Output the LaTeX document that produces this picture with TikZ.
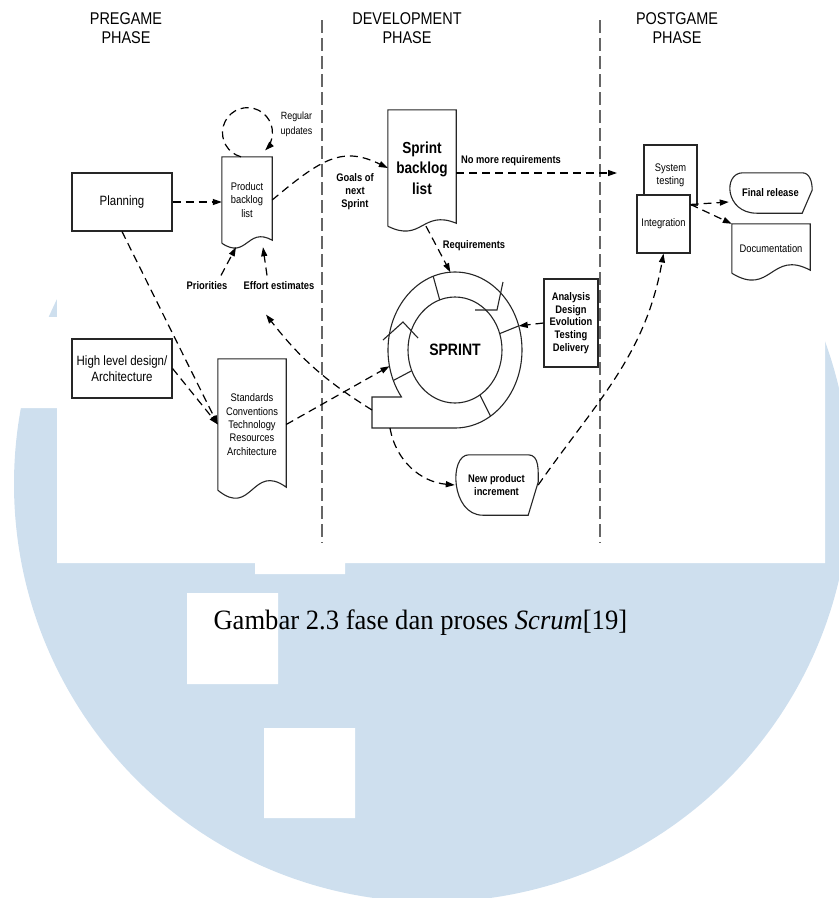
\documentclass[tikz,border=0pt]{standalone}
\usepackage{fontspec}
\setmainfont{Liberation Sans}[FakeStretch=0.85]
\newfontfamily\capfont{Liberation Serif}[FakeStretch=0.95]
\usepackage{tikz}
\usetikzlibrary{arrows.meta, positioning, calc, shapes.geometric}
\definecolor{wmblue}{RGB}{206,223,238}

\newcommand{\docline}[2]{%
  \draw[shapeline] (#1.south west) -- (#1.north west) -- (#1.north east) -- ([yshift=3pt]#1.south east)
    .. controls ($(#1.south)+(0,#2)$) and ($(#1.south)+(0,-#2)$) .. (#1.south west);}
\newcommand{\displine}[1]{%
  \draw[shapeline] ([xshift=14pt]#1.north west) -- ([xshift=-10pt]#1.north east)
    to[out=0,in=90] ([yshift=3pt]#1.east) -- ([xshift=-10pt]#1.south east) -- ([xshift=28pt]#1.south west)
    .. controls ([xshift=-4pt]#1.south west) and ([xshift=-6pt]#1.north west) .. ([xshift=14pt]#1.north west);}

\begin{document}
\begin{tikzpicture}[x=1pt, y=1pt,
    shapeline/.style={line width=1.1pt, black!85},
    box/.style={draw=black!85, line width=1.1pt, fill=white, rectangle, align=center, inner sep=1pt},
    doc/.style={rectangle, align=center, inner sep=0pt},
    flow/.style={line width=1.2pt, dash pattern=on 8pt off 5pt, -{Triangle[length=9pt,width=6pt]}},
    phase/.style={line width=2.6pt, black!60, dash pattern=on 13pt off 5pt},
    phasetitle/.style={align=center, font=\fontsize{17}{19}\selectfont},
    lbl/.style={align=center, font=\fontsize{11}{13}\selectfont\bfseries},
    txt/.style={font=\fontsize{11}{13.3}\selectfont}]

    \useasboundingbox (0,0) rectangle (839,-898);
    \clip (0,0) rectangle (839,-898);
    \fill[wmblue] (432,-484) circle[radius=418];
    \fill[white] (57,0) rectangle (825,-563) (0,-317) rectangle (57,-408)
        (255,-563) rectangle (345,-574) (187,-593) rectangle (278,-684) (264,-728) rectangle (355,-818);

    \node[phasetitle] (pregame) at (126,-28.5) {PREGAME\\PHASE};
    \node[phasetitle] (devel) at (407,-28.5) {DEVELOPMENT\\PHASE};
    \node[phasetitle] (postgame) at (677,-28.5) {POSTGAME\\PHASE};
    \draw[phase] (322,-20) -- (322,-543);

    \node[box, minimum width=100pt, minimum height=58pt, font=\fontsize{13.5}{16}\selectfont] (planning) at (122,-202) {Planning};
    \node[box, minimum width=100pt, minimum height=59pt, font=\fontsize{13.5}{16}\selectfont] (hld) at (122,-368.5) {High level design/\\Architecture};
    \node[doc, txt, minimum width=50pt, minimum height=86pt] (pbl) at (247,-200) {Product\\backlog\\list};
    \docline{pbl}{17}
    \node[doc, txt, minimum width=68pt, minimum height=131pt] (std) at (252,-424.5) {Standards\\Conventions\\Technology\\Resources\\Architecture};
    \docline{std}{28}
    \node[doc, minimum width=68pt, minimum height=116pt, font=\fontsize{16}{20.5}\selectfont\bfseries] (sbl) at (422,-168) {Sprint\\backlog\\list};
    \docline{sbl}{17}

    \node[ellipse, draw=black!85, line width=1.1pt, minimum width=94pt, minimum height=106pt, inner sep=0pt,
        font=\fontsize{16.5}{18}\selectfont\bfseries] (sprint) at (455,-350) {SPRINT};
    \draw[shapeline] ([yshift=-78pt]sprint.center) arc[start angle=-90, end angle=217, x radius=67, y radius=78]
        -- (372,-397) -- (372,-428) -- cycle;
    \foreach \a in {109,203,18,-58}
        \draw[shapeline] ([shift={(\a:47 and 53)}]sprint.center) -- ([shift={(\a:67 and 78)}]sprint.center);
    \draw[shapeline] (503,-282) -- (497,-310) -- (475,-310);
    \draw[shapeline] (383,-340) -- (403,-322) -- (418,-338);

    \node[box, minimum width=54pt, minimum height=88pt, font=\fontsize{11}{12.8}\selectfont\bfseries] (ana) at (571,-323) {Analysis\\Design\\Evolution\\Testing\\Delivery};
    \node[doc, lbl, minimum width=83pt, minimum height=60pt] (npi) at (496.5,-485) {New product\\increment};
    \displine{npi}
    \draw[phase] (600,-20) -- (600,-543);

    \node[box, txt, minimum width=53pt, minimum height=60pt] (systest) at (670.5,-175) {System\\testing};
    \node[box, txt, minimum width=53pt, minimum height=58pt] (integ) at (663.5,-224) {Integration};
    \node[doc, lbl, minimum width=83pt, minimum height=40pt] (final) at (770.5,-193) {Final release};
    \displine{final}
    \node[doc, txt, minimum width=78pt, minimum height=49pt] (docu) at (771,-248.5) {Documentation};
    \docline{docu}{24}

    \node[font=\fontsize{10.5}{15}\selectfont, align=center] (regular) at (296.5,-124.5) {Regular\\updates};
    \node[lbl] (goals) at (355,-192) {Goals of\\next\\Sprint};
    \node[lbl] (nomore) at (511,-161) {No more requirements};
    \node[lbl] (req) at (474,-246) {Requirements};
    \node[lbl] (prio) at (207,-286) {Priorities};
    \node[lbl] (effort) at (279,-286) {Effort estimates};

    \coordinate (nomoreend) at (617,-173);
    \coordinate (ringtop) at ([shift={(94:67 and 78)}]sprint.center);
    \coordinate (tailw) at (372,-410);
    \coordinate (tails) at (390,-428);

    \draw[flow] (planning) -- (planning -| pbl.west);
    \draw[flow] ([xshift=-6pt]pbl.north) arc[start angle=255, end angle=-45, radius=25];
    \draw[flow] (pbl.east) .. controls +(50,42) and +(-45,22) .. (sbl.west);
    \draw[flow] (sbl.east |- nomoreend) -- (nomoreend);
    \draw[flow] ([xshift=4pt]sbl.south) -- (ringtop);
    \draw[flow] (ana.west) -- ([shift={(18:67 and 78)}]sprint.center);
    \draw[flow] (std.east) -- ([shift={(192:67 and 78)}]sprint.center);
    \draw[flow] (planning.south) -- (std.west);
    \draw[flow] (hld.east) -- (std.west);
    \draw[flow] (tailw) to[bend left=10] ([xshift=-13pt,yshift=-21pt]effort.south);
    \draw[flow] (tails) to[out=-80,in=175] (npi.west);
    \draw[flow] (npi.east) to[out=55,in=-100] (integ.south);
    \draw[flow] ([yshift=-10pt]integ.north east) -- ([yshift=-9pt]final.west);
    \draw[flow] ([yshift=-10pt]integ.north east) -- (docu.north west);
    \draw[flow] ([xshift=14pt,yshift=3pt]prio.north) -- ([xshift=-11pt,yshift=-4pt]pbl.south);
    \draw[flow] ([xshift=-12pt,yshift=3pt]effort.north) -- ([xshift=16pt,yshift=-4pt]pbl.south);

    \node[anchor=base west, font=\capfont\fontsize{28}{30}\selectfont] (caption) at (210,-629) {Gambar 2.3 fase dan proses \textit{Scrum}[19]};
\end{tikzpicture}
\end{document}
